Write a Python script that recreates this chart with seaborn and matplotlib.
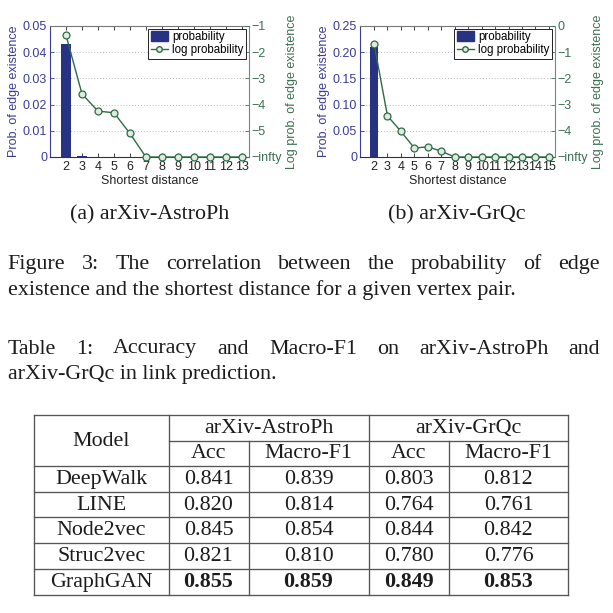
import numpy as np
import matplotlib
matplotlib.use("Agg")
import matplotlib.pyplot as plt
import seaborn as sns
from matplotlib.patches import Patch
from matplotlib.lines import Line2D

# ---------------- data ----------------
astro_dist = [2, 3, 4, 5, 6, 7, 8, 9, 10, 11, 12, 13]
astro_prob = [0.0431, 2.6e-4, 5.6e-5, 4.9e-5, 7.9e-6, 0, 0, 0, 0, 0, 0, 0]
astro_logp = [-1.35, -3.59, -4.25, -4.31, -5.10,
              -np.inf, -np.inf, -np.inf, -np.inf, -np.inf, -np.inf, -np.inf]

grqc_dist = [2, 3, 4, 5, 6, 7, 8, 9, 10, 11, 12, 13, 14, 15]
grqc_prob = [0.209, 3.7e-4, 9.5e-5, 2.2e-5, 2.5e-5, 1.7e-5, 0, 0, 0, 0, 0, 0, 0, 0]
grqc_logp = [-0.67, -3.43, -4.02, -4.66, -4.61, -4.78,
             -np.inf, -np.inf, -np.inf, -np.inf, -np.inf, -np.inf, -np.inf, -np.inf]

astro_pticks = [0, 0.01, 0.02, 0.03, 0.04, 0.05]
astro_plabels = ["0", "0.01", "0.02", "0.03", "0.04", "0.05"]
astro_lticks = [-6, -5, -4, -3, -2, -1]
astro_llabels = ["\u2212infty", "\u22125", "\u22124", "\u22123", "\u22122", "\u22121"]

grqc_pticks = [0, 0.05, 0.10, 0.15, 0.20, 0.25]
grqc_plabels = ["0", "0.05", "0.10", "0.15", "0.20", "0.25"]
grqc_lticks = [-5, -4, -3, -2, -1, 0]
grqc_llabels = ["\u2212infty", "\u22124", "\u22123", "\u22122", "\u22121", "0"]

models = ["DeepWalk", "LINE", "Node2vec", "Struc2vec", "GraphGAN"]
astro_acc = [0.841, 0.820, 0.845, 0.821, 0.855]
astro_f1 = [0.839, 0.814, 0.854, 0.810, 0.859]
grqc_acc = [0.803, 0.764, 0.844, 0.780, 0.849]
grqc_f1 = [0.812, 0.761, 0.842, 0.776, 0.853]

sub_captions = ["(a) arXiv-AstroPh", "(b) arXiv-GrQc"]
fig_caption = ["Figure 3: The correlation between the probability of edge",
               "existence and the shortest distance for a given vertex pair."]
tab_caption = ["Table 1: Accuracy and Macro-F1 on arXiv-AstroPh and",
               "arXiv-GrQc in link prediction."]

# ---------------- style ----------------
plt.rcParams["font.family"] = ["Liberation Sans", "DejaVu Sans"]
BAR = "#283283"
BLUE_TXT = "#3b3c95"
GREEN = "#2e6b47"
GREEN_TXT = "#3a7052"
SERIF = ["Liberation Serif", "DejaVu Serif"]
TXT = "#1c1c1c"

W = H = 613
fig = plt.figure(figsize=(6.13, 6.13), dpi=100)


def rect(x0, x1, y0, y1):
    return [x0 / W, 1 - y1 / H, (x1 - x0) / W, (y1 - y0) / H]


def panel(r, dist, prob, logp, pticks, plabels, lticks, llabels, xlim):
    ax = fig.add_axes(r)
    ax2 = ax.twinx()
    ax.set_axisbelow(True)
    ax.yaxis.grid(True, linestyle=(0, (1, 2)), color="#b8b8b8", linewidth=0.7)
    sns.barplot(x=dist, y=prob, native_scale=True, width=0.6, color=BAR,
                saturation=1, errorbar=None, linewidth=0, ax=ax)
    floor = lticks[0]
    y_line = np.maximum(np.array(logp, dtype=float), floor)
    sns.lineplot(x=dist, y=y_line, ax=ax2, color=GREEN, linewidth=1.0,
                 marker="o", markersize=5, markerfacecolor="#dfeadf",
                 markeredgecolor=GREEN, markeredgewidth=0.9, clip_on=False)
    ax.set_xlim(*xlim)
    ax.set_xticks(dist)
    ax.set_xticklabels([str(d) for d in dist])
    ax.set_ylim(pticks[0], pticks[-1])
    ax.set_yticks(pticks)
    ax.set_yticklabels(plabels)
    ax2.set_ylim(lticks[0], lticks[-1])
    ax2.set_yticks(lticks)
    ax2.set_yticklabels(llabels)

    ax.set_xlabel("Shortest distance", fontsize=9, color="#222222", labelpad=1)
    ax.set_ylabel("Prob. of edge existence", fontsize=9, color=BLUE_TXT, labelpad=2)
    ax2.set_ylabel("Log prob. of edge existence", fontsize=9, color=GREEN_TXT, labelpad=3)

    ax.tick_params(axis="x", direction="in", length=3, pad=3, labelsize=9,
                   colors="#222222", top=True, width=0.6)
    ax.tick_params(axis="y", direction="in", length=3, pad=2, labelsize=9,
                   colors=BLUE_TXT, width=0.6)
    ax2.tick_params(axis="y", direction="in", length=3, pad=2, labelsize=9,
                    colors=GREEN_TXT, width=0.6)
    for s in ["left", "top", "bottom"]:
        ax2.spines[s].set_visible(False)
    ax.spines["right"].set_visible(False)
    ax.spines["left"].set_color(BLUE_TXT)
    ax.spines["bottom"].set_color("#333333")
    ax.spines["top"].set_color("#777777")
    ax2.spines["right"].set_color("#6c8b8e")
    for s in ax.spines.values():
        s.set_linewidth(0.8)
    ax2.spines["right"].set_linewidth(0.8)

    handles = [Patch(facecolor=BAR, edgecolor=BAR),
               Line2D([], [], color=GREEN, linewidth=1.0, marker="o", markersize=4,
                      markerfacecolor="#dfeadf", markeredgecolor=GREEN)]
    leg = ax2.legend(handles, ["probability", "log probability"], loc="upper right",
                     fontsize=8.3, frameon=True, fancybox=False, framealpha=1,
                     edgecolor="#222222", borderaxespad=0.25, borderpad=0.2,
                     labelspacing=0.1, handlelength=1.5, handletextpad=0.4,
                     handleheight=0.9)
    leg.get_frame().set_linewidth(0.7)
    return ax, ax2


panel(rect(50, 249, 26, 157), astro_dist, astro_prob, astro_logp,
      astro_pticks, astro_plabels, astro_lticks, astro_llabels, (1, 13.45))
panel(rect(360, 555, 26, 157), grqc_dist, grqc_prob, grqc_logp,
      grqc_pticks, grqc_plabels, grqc_lticks, grqc_llabels, (0.96, 15.45))

# ---------------- overlay for captions and table ----------------
ov = fig.add_axes([0, 0, 1, 1])
ov.set_xlim(0, W)
ov.set_ylim(H, 0)
ov.axis("off")
FS = 15.8

ov.text(150, 219, sub_captions[0], fontsize=FS, family=SERIF, color=TXT,
        ha="center", va="baseline")
ov.text(457, 219, sub_captions[1], fontsize=FS, family=SERIF, color=TXT,
        ha="center", va="baseline")

renderer = fig.canvas.get_renderer()


def justified(line, y, x0, x1):
    words = line.split(" ")
    ts = [ov.text(0, y, w, fontsize=FS, family=SERIF, color=TXT,
                  ha="left", va="baseline") for w in words]
    ws = [t.get_window_extent(renderer).width for t in ts]
    gap = (x1 - x0 - sum(ws)) / (len(words) - 1)
    x = x0
    for t, w in zip(ts, ws):
        t.set_x(x)
        x += w + gap


justified(fig_caption[0], 269, 7.5, 600)
ov.text(7.5, 294.5, fig_caption[1], fontsize=FS, family=SERIF, color=TXT,
        ha="left", va="baseline")
justified(tab_caption[0], 353.5, 7.5, 600)
ov.text(7.5, 379, tab_caption[1], fontsize=FS, family=SERIF, color=TXT,
        ha="left", va="baseline")

# table
cols = [34, 168.5, 248.5, 368.5, 449, 568]
rows = [415, 441, 466, 492, 517, 543, 569, 595]
LC = "#555555"
LW = 0.95


def hline(y, xa, xb):
    ov.plot([xa, xb], [y, y], color=LC, lw=LW, solid_capstyle="projecting")


def vline(x, ya, yb):
    ov.plot([x, x], [ya, yb], color=LC, lw=LW, solid_capstyle="projecting")


for y in [rows[0]] + rows[2:]:
    hline(y, cols[0], cols[-1])
hline(rows[1], cols[1], cols[-1])
for x in [cols[0], cols[1], cols[3], cols[5]]:
    vline(x, rows[0], rows[-1])
for x in [cols[2], cols[4]]:
    vline(x, rows[1], rows[-1])

OFF = 5


def cell(txt, x, y, bold=False):
    ov.text(x, y + OFF, txt, fontsize=FS, family=SERIF, color=TXT, ha="center",
            va="baseline", fontweight="bold" if bold else "normal")


cell("Model", (cols[0] + cols[1]) / 2, (rows[0] + rows[2]) / 2)
cell("arXiv-AstroPh", (cols[1] + cols[3]) / 2, (rows[0] + rows[1]) / 2)
cell("arXiv-GrQc", (cols[3] + cols[5]) / 2, (rows[0] + rows[1]) / 2)
for i, name in enumerate(["Acc", "Macro-F1", "Acc", "Macro-F1"]):
    cell(name, (cols[i + 1] + cols[i + 2]) / 2, (rows[1] + rows[2]) / 2)

for r, m in enumerate(models):
    yc = (rows[r + 2] + rows[r + 3]) / 2
    best = (m == "GraphGAN")
    cell(m, (cols[0] + cols[1]) / 2, yc)
    vals = [astro_acc[r], astro_f1[r], grqc_acc[r], grqc_f1[r]]
    for j, v in enumerate(vals):
        cell(f"{v:.3f}", (cols[j + 1] + cols[j + 2]) / 2, yc, bold=best)

fig.savefig("out.png", dpi=100)
